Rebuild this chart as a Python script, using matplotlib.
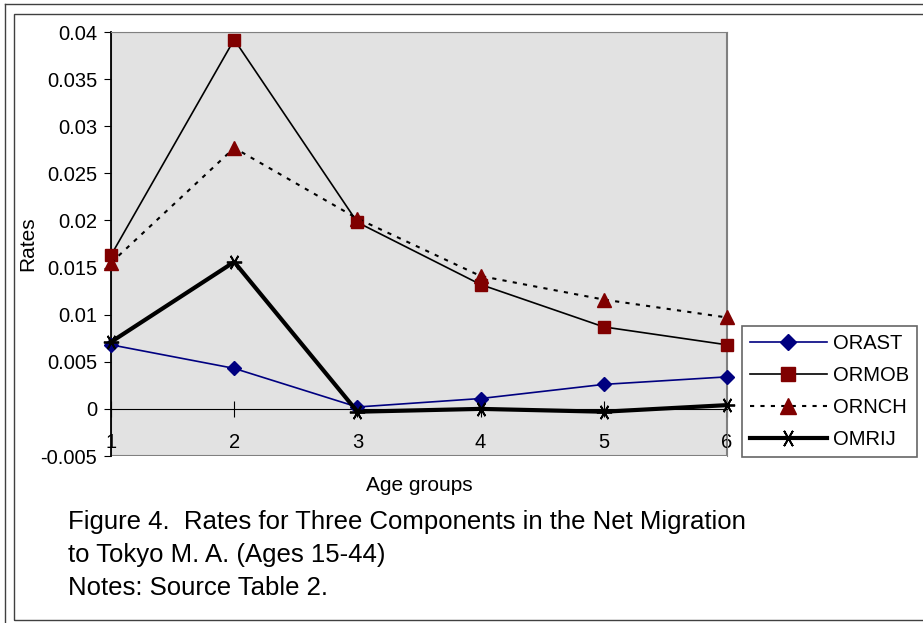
import matplotlib.pyplot as plt
from matplotlib.patches import Rectangle
from matplotlib.lines import Line2D

plt.rcParams['font.family'] = ['Liberation Sans', 'DejaVu Sans']

age_groups = [1, 2, 3, 4, 5, 6]
orast = [0.0068, 0.0043, 0.0002, 0.0011, 0.0026, 0.0034]
ormob = [0.0163, 0.0392, 0.0198, 0.0132, 0.0087, 0.0068]
ornch = [0.0155, 0.0277, 0.0202, 0.0141, 0.0116, 0.0097]
omrij = [0.0071, 0.0156, -0.0003, 0.0000, -0.0003, 0.0004]
y_ticks = [-0.005, 0, 0.005, 0.01, 0.015, 0.02, 0.025, 0.03, 0.035, 0.04]
y_labels = ['-0.005', '0', '0.005', '0.01', '0.015', '0.02', '0.025', '0.03', '0.035', '0.04']

fig = plt.figure(figsize=(9.23, 6.23), dpi=100)

# outer frame lines of the original page
fig.add_artist(Line2D([5/923, 5/923], [0, 1 - 4/623], color='#404040', lw=1))
fig.add_artist(Line2D([5/923, 1], [1 - 4/623, 1 - 4/623], color='#404040', lw=1))
fig.add_artist(Rectangle((14/923, 3/623), 1, 1 - 17/623, fill=False,
                         edgecolor='#404040', lw=1))

ax = fig.add_axes([111/923, (623 - 456)/623, 616/923, 424/623])
ax.set_facecolor('#e2e2e2')

ax.plot(age_groups, orast, color='#000080', lw=1.2, marker='D', ms=7.5,
        mfc='#000080', mec='#000080', label='ORAST', clip_on=False, zorder=5)
ax.plot(age_groups, ormob, color='black', lw=1.2, marker='s', ms=9,
        mfc='#800000', mec='#800000', label='ORMOB', clip_on=False, zorder=5)
ax.plot(age_groups, ornch, color='black', lw=1.5, ls=(0, (2, 3)), marker='^', ms=9.5,
        mfc='#800000', mec='#800000', label='ORNCH', clip_on=False, zorder=5)
ax.plot(age_groups, omrij, color='black', lw=3, marker=(6, 2, 90), ms=11, mew=1.3,
        label='OMRIJ', clip_on=False, zorder=5)

ax.set_xlim(1, 6)
ax.set_ylim(-0.005, 0.04)
ax.set_yticks(y_ticks)
ax.set_yticklabels(y_labels)
ax.set_xticks(age_groups)

for s in ['top', 'right']:
    ax.spines[s].set_color('#808080')
ax.spines['left'].set_color('black')
ax.spines['left'].set_linewidth(1.3)
ax.spines['bottom'].set_position(('data', 0))
ax.spines['bottom'].set_color('black')
ax.add_patch(Rectangle((0, 0), 1, 1, transform=ax.transAxes, fill=False,
                       edgecolor='#808080', lw=1.5, zorder=1))

ax.tick_params(axis='y', direction='out', length=5, labelsize=14.5, pad=5)
ax.tick_params(axis='x', direction='inout', length=12, labelsize=14.5, pad=11)

ax.set_ylabel('Rates', fontsize=15, labelpad=2)
ax.set_xlabel('Age groups', fontsize=15)
ax.xaxis.set_label_coords(0.5, -0.048)

leg = fig.legend(loc='upper left', bbox_to_anchor=(742/923, 1 - 326/623),
                 fontsize=14.5, frameon=True, fancybox=False, edgecolor='#404040',
                 handlelength=3.8, borderpad=0.4, labelspacing=0.65,
                 handletextpad=0.3, borderaxespad=0, markerscale=1.15)
leg.get_frame().set_linewidth(1.2)

fig.text(68/923, 1 - 522/623, 'Figure 4.  Rates for Three Components in the Net Migration',
         fontsize=18.5, va='center')
fig.text(68/923, 1 - 555/623, 'to Tokyo M. A. (Ages 15-44)', fontsize=18.5, va='center')
fig.text(68/923, 1 - 588/623, 'Notes: Source Table 2.', fontsize=18.5, va='center')

fig.savefig('out.png', dpi=100)
